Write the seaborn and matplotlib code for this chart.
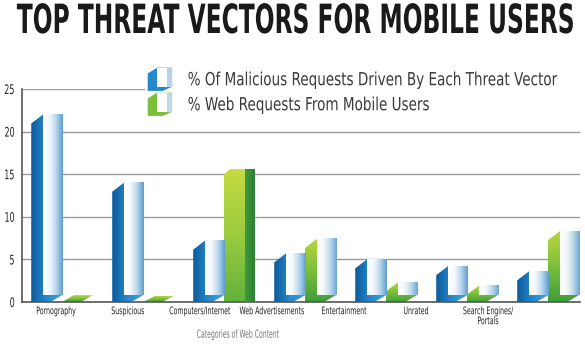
import numpy as np
import pandas as pd
import matplotlib
matplotlib.use('Agg')
import matplotlib.pyplot as plt
import seaborn as sns
from matplotlib.patches import Polygon, Patch, Rectangle
from matplotlib.colors import LinearSegmentedColormap
from matplotlib.patheffects import AbstractPathEffect
from matplotlib.transforms import Affine2D, Bbox
from matplotlib.legend_handler import HandlerBase

# data
categories = ['Pornography', 'Suspicious', 'Computers/Internet', 'Web Advertisements',
              'Entertainment', 'Unrated', 'Search Engines/\nPortals']
malicious = [22.0, 14.0, 7.2, 5.7, 5.0, 4.2, 3.6]
mobile = [0.8, 0.7, 15.6, 7.4, 2.3, 1.9, 8.3]
series = ['% Of Malicious Requests Driven By Each Threat Vector',
          '% Web Requests From Mobile Users']
title = 'TOP THREAT VECTORS FOR MOBILE USERS'
xlabel = 'Categories of Web Content'
yticks = [0, 5, 10, 15, 20, 25]

# colours: side face (left->right), front face (left->right)
side_colors = [['#0d5a9a', '#2689cb', '#3aa2df'], ['#3f9e3a', '#7cbf3c', '#b8d63c']]
front_colors = [['#ffffff', '#f3f8fc', '#b6d5ec', '#5d9dcf'], ['#ffffff', '#f3f8f6', '#bcd8ea', '#6aa5d1']]
# the tall green Computers/Internet column is drawn as a solid green box in the original
solid_side = ['#c5da40', '#9acb3e', '#62b23c']
solid_front = ['#3f9a3a', '#2f7f35']


class Squeeze(AbstractPathEffect):
    """Draw text horizontally condensed (the original uses a narrow face)."""
    def __init__(self, sx=1.0, anchor='center', width=None):
        super().__init__()
        self.sx, self.anchor, self.width = sx, anchor, width

    def draw_path(self, renderer, gc, tpath, affine, rgbFace=None):
        ext = tpath.get_extents()
        (l, y0), (r, _) = affine.transform([(ext.x0, 0), (ext.x1, 0)])
        sx = self.sx if self.width is None else self.width / (r - l)
        cx = {'left': l, 'center': (l + r) / 2, 'right': r}[self.anchor]
        sq = Affine2D().translate(-cx, -y0).scale(sx, 1).translate(cx, y0)
        renderer.draw_path(gc, tpath, affine + sq, rgbFace)


def squeeze_text(t, sx, anchor='center'):
    # condense the drawing and report the condensed box as the text's extent
    t.set_path_effects([Squeeze(sx, anchor)])
    orig = t.get_window_extent

    def extent(renderer=None, dpi=None):
        bb = orig(renderer, dpi)
        cx = {'left': bb.x0, 'center': (bb.x0 + bb.x1) / 2, 'right': bb.x1}[anchor]
        return Bbox([[cx + (bb.x0 - cx) * sx, bb.y0], [cx + (bb.x1 - cx) * sx, bb.y1]])
    t.get_window_extent = extent


class HandlerIcon(HandlerBase):
    def create_artists(self, legend, orig_handle, xdescent, ydescent, width, height, fontsize, trans):
        k = 0 if orig_handle.get_label() == 'a' else 1
        x0, y0 = -xdescent, -ydescent
        x1, y1 = x0 + width, y0 + height
        sw, c, d = 0.38 * width, 0.25 * height, 0.18 * height
        sil = Polygon([(x0, y0), (x0, y1 - c), (x0 + sw, y1), (x1, y1), (x1, y0 + d), (x1 - sw, y0)],
                      closed=True, facecolor=side_colors[k][1], edgecolor='none', transform=trans)
        front = Rectangle((x0 + sw, y0 + d), width - sw, height - d, facecolor='white',
                          edgecolor='none', transform=trans)
        edge = Rectangle((x0 + 0.8 * width, y0 + d), 0.2 * width, height - d,
                         facecolor=front_colors[k][2], edgecolor='none', transform=trans)
        return [sil, front, edge]


sns.set_style('white')
plt.rcParams['font.family'] = ['DejaVu Sans']

fig = plt.figure(figsize=(5.85, 3.45), dpi=100)
ax = fig.add_axes([22 / 585, 43 / 345, 558 / 585, 213 / 345])

df = pd.DataFrame({'category': categories * 2,
                   'series': np.repeat(series, len(categories)),
                   'value': malicious + mobile})
sns.barplot(data=df, x='category', y='value', hue='series', hue_order=series,
            palette=[side_colors[0][1], side_colors[1][1]], width=0.76, saturation=1,
            errorbar=None, legend=False, ax=ax)

# turn the flat bars into the pseudo-3D shaded columns
hgrad = np.linspace(0, 1, 128)[None, :]
vgrad = np.linspace(0, 1, 128)[:, None]
bars = list(ax.patches)
n = len(categories)
for i, p in enumerate(bars):
    k = i // n
    x0, w, h = p.get_x(), p.get_width(), p.get_height()
    x1 = x0 + w
    p.set_visible(False)
    solid = (k == 1 and i % n == 2)
    sw, c, d = 0.38 * w, 1.05, min(0.8, h)
    if solid:
        sil_pts = [(x0, 0), (x0, h - 0.6), (x0 + 0.2 * w, h), (x1, h), (x1, 0)]
    else:
        sil_pts = [(x0, 0), (x0, max(h - c, 0)), (x0 + sw, h), (x1, h), (x1, d), (x1 - sw, 0)]
    sil = Polygon(sil_pts, closed=True, facecolor='none', edgecolor='none')
    ax.add_patch(sil)
    if solid:
        cmap, g = LinearSegmentedColormap.from_list('s', solid_side[::-1]), vgrad
    elif k == 1:
        cmap, g = LinearSegmentedColormap.from_list('s', side_colors[1]), vgrad
    else:
        cmap, g = LinearSegmentedColormap.from_list('s', side_colors[0]), hgrad
    im = ax.imshow(g, extent=(x0, x1, 0, h), aspect='auto', origin='lower', zorder=2,
                   cmap=cmap, interpolation='bilinear')
    im.set_clip_path(sil)
    if solid:
        ax.imshow(hgrad, extent=(x0 + 0.68 * w, x1, 0, h), aspect='auto', origin='lower', zorder=3,
                  cmap=LinearSegmentedColormap.from_list('f', solid_front), interpolation='bilinear')
    elif h > d:
        ax.imshow(hgrad, extent=(x0 + sw, x1, d, h), aspect='auto', origin='lower', zorder=3,
                  cmap=LinearSegmentedColormap.from_list('f', front_colors[k]), interpolation='bilinear')

ax.set_xlim(-0.494, 6.395)
ax.set_ylim(0, 25)
ax.set_yticks(yticks)
ax.yaxis.grid(True, color='#9a9a9a', lw=1)
ax.set_axisbelow(True)
for s in ['top', 'right']:
    ax.spines[s].set_visible(False)
for s in ['left', 'bottom']:
    ax.spines[s].set_color('#555555')
    ax.spines[s].set_linewidth(1.2)

# category labels in the original sit on a tighter spacing than the bars
lab_x = (np.arange(n) * 72 - 6) / 81
ax.set_xticks(lab_x, categories)
ax.set_xticks((lab_x[:-1] + lab_x[1:]) / 2, minor=True)
ax.tick_params(axis='x', which='major', length=0, pad=3, labelsize=7.5, labelcolor='#222222')
ax.tick_params(axis='x', which='minor', length=4, width=0.8, color='#555555', direction='out')
ax.tick_params(axis='y', length=0, pad=5, labelsize=9.5, labelcolor='#222222')
for t in ax.get_xticklabels():
    t.set_linespacing(1.0)
    squeeze_text(t, 0.6)
for t in ax.get_yticklabels():
    squeeze_text(t, 0.6, 'right')

ax.set_xlabel(xlabel, fontsize=8, color='#777777')
ax.xaxis.set_label_coords((238 - 22) / 558, -0.13)
squeeze_text(ax.xaxis.label, 0.55)
ax.set_ylabel('')

ttl = fig.text(296.5 / 585, 1 - 33 / 345, title, ha='center', va='baseline', fontsize=29,
               fontweight='bold', color='#1a1a1a')
squeeze_text(ttl, 0.58)

handles = [Patch(label='a'), Patch(label='b')]
leg = ax.legend(handles, series, handler_map={Patch: HandlerIcon()}, loc='upper left',
                bbox_to_anchor=(145 / 585, 1 - 65 / 345), bbox_transform=fig.transFigure,
                frameon=True, facecolor='white', edgecolor='none', framealpha=1, fancybox=False,
                fontsize=13, handlelength=1.35, handleheight=1.6,
                handletextpad=0.85, labelspacing=0.1, borderpad=0.15, borderaxespad=0)
for t in leg.get_texts():
    t.set_color('#3a3a3a')
    squeeze_text(t, 0.75, 'left')

fig.savefig('out.png', dpi=100)
